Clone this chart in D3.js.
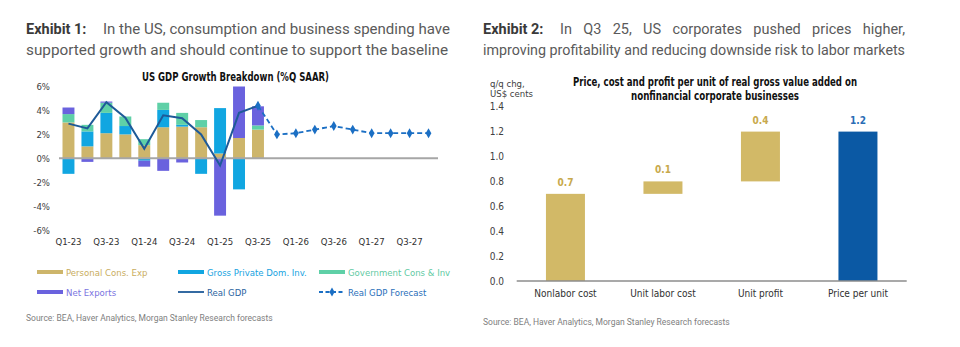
<!DOCTYPE html>
<html>
<head>
<meta charset="utf-8">
<script src="https://cdn.jsdelivr.net/npm/d3@7"></script>
<style>
  html, body { margin: 0; padding: 0; background: #fff; }
  svg { display: block; }
  .hdr { font-family: Roboto, "Open Sans", sans-serif; font-size: 14.5px; fill: #5a5a5a; }
  .hdr .bold { font-weight: bold; fill: #3a3a3a; }
  .narrow { font-family: "Liberation Sans Narrow", "DejaVu Sans Condensed", "Roboto", sans-serif; }
  .src { font-family: Roboto, sans-serif; font-size: 8.5px; fill: #808080; }
</style>
</head>
<body>
<svg id="chart" width="960" height="347"></svg>
<script>
// ============ Exhibit 1 data ============
const quarters = ['Q1-23','Q2-23','Q3-23','Q4-23','Q1-24','Q2-24','Q3-24','Q4-24','Q1-25','Q2-25','Q3-25',
  'Q4-25','Q1-26','Q2-26','Q3-26','Q4-26','Q1-27','Q2-27','Q3-27','Q4-27'];
const actualQuarters = quarters.slice(0, 11);
const pce  = [3.0, 1.0, 2.1, 2.0, 1.1, 2.6, 2.65, 2.6, 0.4, 1.7, 2.4];
const gpdi = [-1.3, 1.25, 1.7, 0.7, -0.2, 1.45, 0.15, -1.3, 3.8, -2.6, 0.0];
const gov  = [0.7, 0.55, 0.85, 0.8, 0.5, 0.6, 1.0, 0.6, 0.0, 0.0, 0.35];
const nx   = [0.55, -0.3, 0.1, 0.0, -0.5, -1.05, -0.35, 0.0, -4.8, 4.7, 1.6];
const realGdp = [2.9, 2.5, 4.7, 3.4, 0.8, 3.6, 3.35, 2.0, -0.6, 3.8, 4.4];
const forecastQuarters = quarters.slice(10);
const gdpForecast = [4.4, 2.0, 2.1, 2.4, 2.7, 2.4, 2.1, 2.1, 2.1, 2.1];
const yTicks1 = [-6, -4, -2, 0, 2, 4, 6];

// ============ Exhibit 2 data ============
const costCats = ['Nonlabor cost', 'Unit labor cost', 'Unit profit', 'Price per unit'];
const costStart = [0, 0.7, 0.8, 0];
const costEnd = [0.7, 0.8, 1.2, 1.2];
const costLabels = ['0.7', '0.1', '0.4', '1.2'];
const yTicks2 = [0, 0.2, 0.4, 0.6, 0.8, 1.0, 1.2, 1.4];

const col = {
  pce: '#cdb56b', gpdi: '#11a6e1', gov: '#5fd0a7', nx: '#6a62de',
  gdp: '#1e5a98', fc: '#1b6fc4', tan: '#d2b967', tanText: '#c8a94c', blue: '#0b59a4'
};

const svg = d3.select('#chart');

// ============ Headers ============
svg.append('text').attr('class', 'hdr').attr('x', 26).attr('y', 34)
  .append('tspan').attr('class', 'bold').text('Exhibit 1:');
svg.append('text').attr('class', 'hdr').attr('x', 103).attr('y', 34)
  .attr('textLength', 347).attr('lengthAdjust', 'spacingAndGlyphs')
  .text('In the US, consumption and business spending have');
svg.append('text').attr('class', 'hdr').attr('x', 26).attr('y', 55)
  .attr('textLength', 422).attr('lengthAdjust', 'spacingAndGlyphs')
  .text('supported growth and should continue to support the baseline');

// justified first line on the right
svg.append('text').attr('class', 'hdr').attr('x', 483).attr('y', 34)
  .append('tspan').attr('class', 'bold').text('Exhibit 2:');
const words = 'In Q3 25, US corporates pushed prices higher,'.split(' ');
const wx0 = 560, wx1 = 905;
const wNodes = words.map(w => svg.append('text').attr('class', 'hdr').attr('y', 34).text(w));
const wTotal = d3.sum(wNodes, n => n.node().getComputedTextLength());
const gap = (wx1 - wx0 - wTotal) / (words.length - 1);
let cx = wx0;
wNodes.forEach(n => { n.attr('x', cx); cx += n.node().getComputedTextLength() + gap; });
svg.append('text').attr('class', 'hdr').attr('x', 483).attr('y', 55)
  .attr('textLength', 422).attr('lengthAdjust', 'spacingAndGlyphs')
  .text('improving profitability and reducing downside risk to labor markets');

// ============ Exhibit 1 chart ============
const x1 = d3.scaleBand().domain(quarters).range([59, 438]).paddingInner(0.37).paddingOuter(0.185);
const y1 = d3.scaleLinear().domain([-6, 6]).range([230, 86.6]);

svg.append('text').attr('class', 'narrow').attr('x', 142).attr('y', 81)
  .attr('font-weight', 'bold').attr('font-size', 12.5).attr('fill', '#111')
  .attr('textLength', 187).attr('lengthAdjust', 'spacingAndGlyphs')
  .text('US GDP Growth Breakdown (%Q SAAR)');

svg.append('clipPath').attr('id', 'clip1').append('rect')
  .attr('x', 50).attr('y', y1(6)).attr('width', 400).attr('height', y1(-6) - y1(6));

const keys = ['pce', 'gpdi', 'gov', 'nx'];
const rows = actualQuarters.map((q, i) => ({ q, pce: pce[i], gpdi: gpdi[i], gov: gov[i], nx: nx[i] }));
const series = d3.stack().keys(keys).offset(d3.stackOffsetDiverging)(rows);

svg.append('g').attr('clip-path', 'url(#clip1)')
  .selectAll('g').data(series).join('g')
  .attr('fill', d => col[d.key])
  .selectAll('rect').data(d => d).join('rect')
  .attr('x', d => x1(d.data.q))
  .attr('width', x1.bandwidth())
  .attr('y', d => y1(Math.max(d[0], d[1])))
  .attr('height', d => Math.abs(y1(d[0]) - y1(d[1])));

// zero line
svg.append('line').attr('x1', 59).attr('x2', 438).attr('y1', y1(0)).attr('y2', y1(0))
  .attr('stroke', '#a6a6a6').attr('stroke-width', 2);

const cxq = q => x1(q) + x1.bandwidth() / 2;
svg.append('path').datum(realGdp)
  .attr('fill', 'none').attr('stroke', col.gdp).attr('stroke-width', 2)
  .attr('d', d3.line().x((d, i) => cxq(actualQuarters[i])).y(d => y1(d)));

svg.append('path').datum(gdpForecast)
  .attr('fill', 'none').attr('stroke', col.fc).attr('stroke-width', 1.8).attr('stroke-dasharray', '5,3')
  .attr('d', d3.line().x((d, i) => cxq(forecastQuarters[i])).y(d => y1(d)));
svg.append('g').selectAll('path').data(gdpForecast).join('path')
  .attr('transform', (d, i) => `translate(${cxq(forecastQuarters[i])},${y1(d)})`)
  .attr('d', d3.symbol(d3.symbolDiamond, 28))
  .attr('fill', col.fc);

// axes
const yAx1 = svg.append('g').attr('transform', 'translate(52,0)')
  .call(d3.axisLeft(y1).tickValues(yTicks1).tickSize(0).tickPadding(2).tickFormat(d => d + '%'));
yAx1.select('.domain').remove();
yAx1.selectAll('text').attr('class', 'narrow').attr('font-size', 9.5).attr('fill', '#404040');

const xAx1 = svg.append('g').attr('transform', 'translate(0,231)')
  .call(d3.axisBottom(x1).tickValues(quarters.filter((q, i) => i % 2 === 0)).tickSize(0).tickPadding(7));
xAx1.select('.domain').remove();
xAx1.selectAll('text').attr('class', 'narrow').attr('font-size', 9.5).attr('fill', '#303030');

// legend
const legend1 = [
  { label: 'Personal Cons. Exp', c: col.pce, text: '#c9ad5e', type: 'bar', x: 37, y: 272 },
  { label: 'Gross Private Dom. Inv.', c: col.gpdi, text: '#17a3df', type: 'bar', x: 178, y: 272 },
  { label: 'Government Cons & Inv', c: col.gov, text: '#5fcaa3', type: 'bar', x: 319, y: 272 },
  { label: 'Net Exports', c: col.nx, text: '#7a73df', type: 'bar', x: 37, y: 292 },
  { label: 'Real GDP', c: col.gdp, text: '#2a63a0', type: 'line', x: 178, y: 292 },
  { label: 'Real GDP Forecast', c: col.fc, text: '#2a6fba', type: 'fc', x: 319, y: 292 }
];
const lg = svg.append('g').selectAll('g').data(legend1).join('g')
  .attr('transform', d => `translate(${d.x},${d.y})`);
lg.filter(d => d.type === 'bar').append('rect')
  .attr('x', 0).attr('y', -2).attr('width', 26).attr('height', 4).attr('fill', d => d.c);
lg.filter(d => d.type !== 'bar').append('line')
  .attr('x1', 0).attr('x2', 26).attr('y1', 0).attr('y2', 0)
  .attr('stroke', d => d.c).attr('stroke-width', 1.8)
  .attr('stroke-dasharray', d => d.type === 'fc' ? '4,2.5' : null);
lg.filter(d => d.type === 'fc').append('path')
  .attr('transform', 'translate(13,0)').attr('d', d3.symbol(d3.symbolDiamond, 24)).attr('fill', d => d.c);
lg.append('text').attr('class', 'narrow').attr('x', 29).attr('y', 3.5)
  .attr('font-size', 9.5).attr('fill', d => d.text).text(d => d.label);

svg.append('text').attr('class', 'src').attr('x', 26).attr('y', 321)
  .text('Source: BEA, Haver Analytics, Morgan Stanley Research forecasts');

// ============ Exhibit 2 chart ============
const x2 = d3.scaleBand().domain(costCats).range([516.7, 906.7]).paddingInner(0.6).paddingOuter(0.3);
const y2 = d3.scaleLinear().domain([0, 1.4]).range([281, 106.7]);

const t2 = svg.append('text').attr('class', 'narrow')
  .attr('font-weight', 'bold').attr('font-size', 12).attr('fill', '#111');
t2.append('tspan').attr('x', 573).attr('y', 86).attr('textLength', 284).attr('lengthAdjust', 'spacingAndGlyphs')
  .text('Price, cost and profit per unit of real gross value added on');
t2.append('tspan').attr('x', 631).attr('y', 100).attr('textLength', 168).attr('lengthAdjust', 'spacingAndGlyphs')
  .text('nonfinancial corporate businesses');

const ylab = svg.append('text').attr('class', 'narrow').attr('font-size', 9.5).attr('fill', '#404040');
ylab.append('tspan').attr('x', 490).attr('y', 87).text('q/q chg,');
ylab.append('tspan').attr('x', 490).attr('y', 97).text('US$ cents');

const yAx2 = svg.append('g').attr('transform', 'translate(506,0)')
  .call(d3.axisLeft(y2).tickValues(yTicks2).tickSize(0).tickPadding(2).tickFormat(d3.format('.1f')));
yAx2.select('.domain').remove();
yAx2.selectAll('text').attr('class', 'narrow').attr('font-size', 10).attr('fill', '#404040');

const bars2 = costCats.map((c, i) => ({ c, s: costStart[i], e: costEnd[i], label: costLabels[i], last: i === costCats.length - 1 }));
svg.append('g').selectAll('rect').data(bars2).join('rect')
  .attr('x', d => x2(d.c)).attr('width', x2.bandwidth())
  .attr('y', d => y2(d.e)).attr('height', d => y2(d.s) - y2(d.e))
  .attr('fill', d => d.last ? col.blue : col.tan);
svg.append('g').selectAll('text').data(bars2).join('text')
  .attr('class', 'narrow').attr('text-anchor', 'middle').attr('font-weight', 'bold').attr('font-size', 10)
  .attr('x', d => x2(d.c) + x2.bandwidth() / 2).attr('y', d => y2(d.e) - 8)
  .attr('fill', d => d.last ? '#2a6db5' : col.tanText)
  .text(d => d.label);

svg.append('line').attr('x1', 516.7).attr('x2', 906.7).attr('y1', y2(0)).attr('y2', y2(0))
  .attr('stroke', '#8c8c8c').attr('stroke-width', 1.5);

const xAx2 = svg.append('g').attr('transform', `translate(0,${y2(0)})`)
  .call(d3.axisBottom(x2).tickSize(0).tickPadding(9));
xAx2.select('.domain').remove();
xAx2.selectAll('text').attr('class', 'narrow').attr('font-size', 10).attr('fill', '#303030');

svg.append('text').attr('class', 'src').attr('x', 483).attr('y', 325)
  .text('Source: BEA, Haver Analytics, Morgan Stanley Research forecasts');
</script>
</body>
</html>
